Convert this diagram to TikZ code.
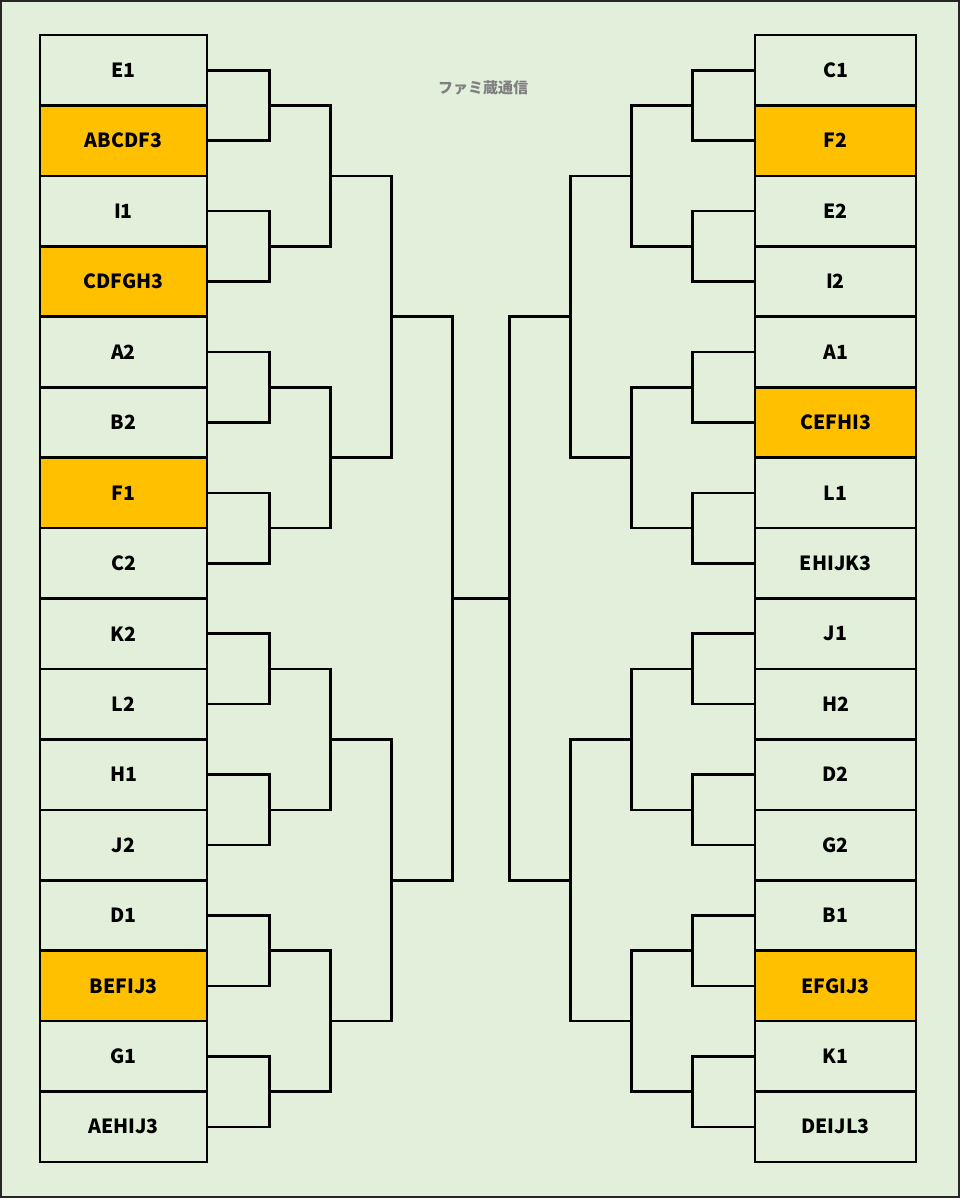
\documentclass[tikz,border=0pt]{standalone}
\usepackage{fontspec}
\setmainfont{Noto Sans CJK JP}
\newfontfamily\cjk{Noto Sans CJK JP}
\usetikzlibrary{calc}
\definecolor{bg}{HTML}{E2EFDA}
\definecolor{hi}{HTML}{FFC000}
\definecolor{ttl}{HTML}{7F7F7F}
\begin{document}
\begin{tikzpicture}[x=1pt,y=-1pt,
  lbox/.style={draw=black,line width=2.6pt,minimum width=167pt,minimum height=70.44pt,inner sep=0pt,font=\bfseries\fontsize{19.5}{19.5}\selectfont},
  rbox/.style={lbox,minimum width=161pt},
  hl/.style={fill=hi},
  br/.style={draw=black,line width=2.6pt,line join=miter}]
\useasboundingbox (0,0) rectangle (962,1200);
\fill[white] (0,0) rectangle (962,1200);
\draw[fill=bg,draw=black!85,line width=1.8pt] (1,1) rectangle (959,1197);
\node[font=\cjk\bfseries\fontsize{15}{15}\selectfont,text=ttl] (title) at (483,88) {ファミ蔵通信};
% left boxes
\foreach \i/\t/\h in {1/E1/,2/ABCDF3/hl,3/I1/,4/CDFGH3/hl,5/A2/,6/B2/,7/F1/hl,8/C2/,9/K2/,10/L2/,11/H1/,12/J2/,13/D1/,14/BEFIJ3/hl,15/G1/,16/AEHIJ3/}
  \node[lbox,\h] (L\i) at (123.5,{35+70.44*(\i-0.5)}) {\t};
% right boxes
\foreach \i/\t/\h in {1/C1/,2/F2/hl,3/E2/,4/I2/,5/A1/,6/CEFHI3/hl,7/L1/,8/EHIJK3/,9/J1/,10/H2/,11/D2/,12/G2/,13/B1/,14/EFGIJ3/hl,15/K1/,16/DEIJL3/}
  \node[rbox,\h] (R\i) at (835.5,{35+70.44*(\i-0.5)}) {\t};
% level 1
\foreach \k in {1,...,8}{
  \pgfmathtruncatemacro\a{2*\k-1}\pgfmathtruncatemacro\b{2*\k}
  \coordinate (La\k) at ($(L\a.east)!0.5!(L\b.east)+(61,0)$);
  \coordinate (Ra\k) at ($(R\a.west)!0.5!(R\b.west)+(-61,0)$);
  \draw[br] (L\a.east) -| (La\k) |- (L\b.east);
  \draw[br] (R\a.west) -| (Ra\k) |- (R\b.west);
}
% level 2
\foreach \k in {1,...,4}{
  \pgfmathtruncatemacro\a{2*\k-1}\pgfmathtruncatemacro\b{2*\k}
  \coordinate (Lb\k) at ($(La\a)!0.5!(La\b)+(61,0)$);
  \coordinate (Rb\k) at ($(Ra\a)!0.5!(Ra\b)+(-61,0)$);
  \draw[br] (La\a) -| (Lb\k) |- (La\b);
  \draw[br] (Ra\a) -| (Rb\k) |- (Ra\b);
}
% level 3
\foreach \k in {1,2}{
  \pgfmathtruncatemacro\a{2*\k-1}\pgfmathtruncatemacro\b{2*\k}
  \coordinate (Lc\k) at ($(Lb\a)!0.5!(Lb\b)+(61,0)$);
  \coordinate (Rc\k) at ($(Rb\a)!0.5!(Rb\b)+(-61,0)$);
  \draw[br] (Lb\a) -| (Lc\k) |- (Lb\b);
  \draw[br] (Rb\a) -| (Rc\k) |- (Rb\b);
}
% level 4 and final
\coordinate (Ld) at ($(Lc1)!0.5!(Lc2)+(61,0)$);
\coordinate (Rd) at ($(Rc1)!0.5!(Rc2)+(-61,0)$);
\draw[br] (Lc1) -| (Ld) |- (Lc2);
\draw[br] (Rc1) -| (Rd) |- (Rc2);
\draw[br] (Ld) -- (Rd);
\end{tikzpicture}
\end{document}
